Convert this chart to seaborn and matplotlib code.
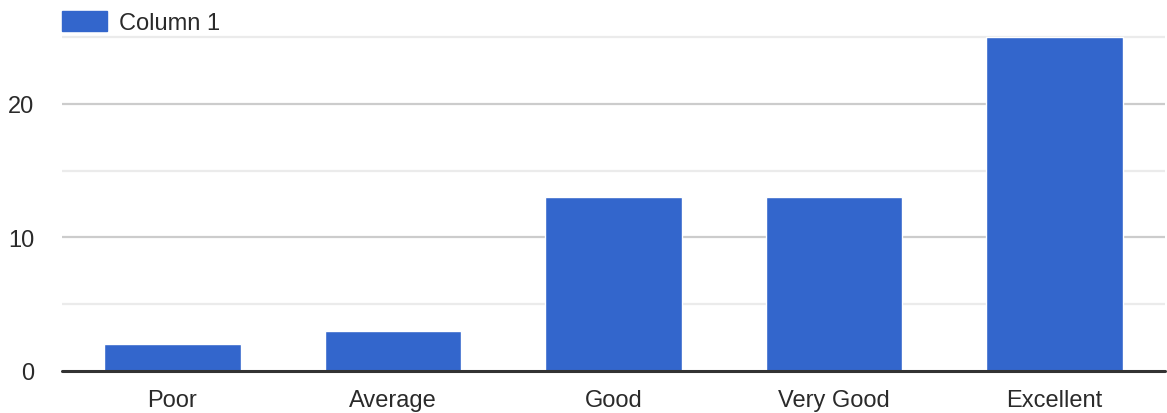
import matplotlib
matplotlib.use("Agg")
import matplotlib.pyplot as plt
import seaborn as sns
import pandas as pd
from matplotlib.patches import Patch

categories = ["Poor", "Average", "Good", "Very Good", "Excellent"]
values = [2, 3, 13, 13, 25]
series_name = "Column 1"
major_ticks = [0, 10, 20]
minor_ticks = [5, 15, 25]

df = pd.DataFrame({"category": categories, "value": values})

sns.set_theme(style="white")
plt.rcParams['font.family'] = ['Liberation Sans', 'DejaVu Sans']

W, H = 1167, 414
fig = plt.figure(figsize=(W / 100, H / 100), dpi=100)
left, right = 62, 1165
y0, ytop = 372, 31.3
ax = fig.add_axes([left / W, (H - y0) / H, (right - left) / W, (y0 - ytop) / H])

sns.barplot(data=df, x="category", y="value", color="#3366CC", saturation=1,
            width=0.62, ax=ax, zorder=3)

ax.set_ylim(0, 25.5)
ax.set_xlim(-0.5, len(categories) - 0.5)
ax.set_yticks(major_ticks)
ax.set_yticks(minor_ticks, minor=True)
for t in major_ticks[1:]:
    ax.axhline(t, color="#cccccc", lw=1.6, zorder=1)
for t in minor_ticks:
    ax.axhline(t, color="#ebebeb", lw=1.6, zorder=1)
ax.axhline(0, color="#333333", lw=2.2, zorder=4, clip_on=False)

for s in ax.spines.values():
    s.set_visible(False)
ax.tick_params(axis="both", which="both", length=0, labelsize=17, colors="#2a2a2a")
ax.tick_params(axis="x", pad=13)
ax.tick_params(axis="y", pad=20)
ax.set_xlabel("")
ax.set_ylabel("")

handle = Patch(facecolor="#3366CC", edgecolor="#3366CC")
leg = fig.legend(handles=[handle], labels=[series_name], loc="upper left",
                 bbox_to_anchor=(left / W, 1 - 12 / H), frameon=False,
                 fontsize=17, handlelength=1.9, handleheight=0.95,
                 handletextpad=0.5, borderpad=0, borderaxespad=0)
for t in leg.get_texts():
    t.set_color("#2a2a2a")

fig.savefig("out.png", dpi=100)
